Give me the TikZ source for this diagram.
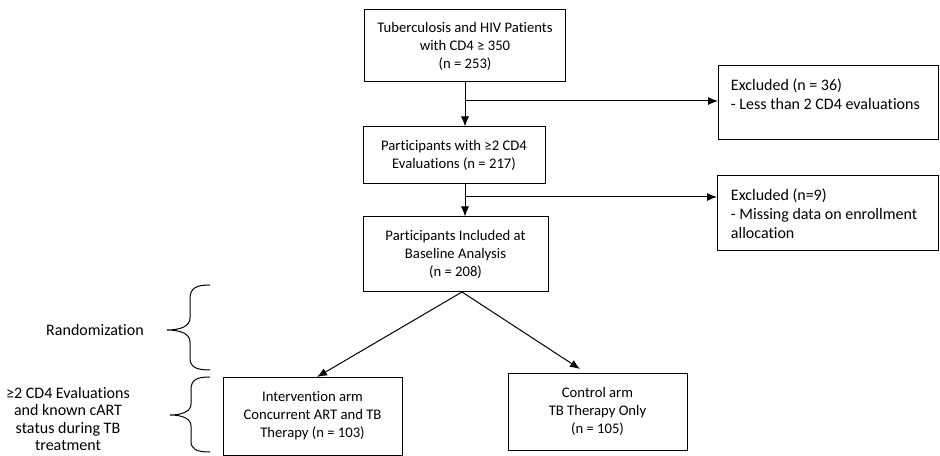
\documentclass[tikz,border=0pt]{standalone}
\usepackage{fontspec}
\setmainfont{Carlito}[Ligatures=NoCommon]
\usetikzlibrary{arrows.meta,shapes}
\tikzstyle{box} = [rectangle, draw=black, text centered, align=center, inner sep=2pt, font=\fontsize{11}{13.5}\selectfont]
\tikzstyle{exbox} = [rectangle, draw=black, anchor=north west, align=left, inner sep=0pt]
\tikzstyle{extext} = [align=left, anchor=north west, font=\fontsize{12}{14.25}\selectfont]
\tikzstyle{plain} = [align=center, font=\fontsize{12}{13}\selectfont]
\tikzstyle{arrow} = [-{Latex[length=7.5pt,width=6pt]}]

\begin{document}
\begin{tikzpicture}[x=0.75pt, y=-0.75pt, line width=0.75pt]
    \useasboundingbox (0,0) rectangle (940,456);
    \node (top) [box, minimum width=150.75pt, minimum height=54pt] at (465,46) {Tuberculosis and HIV Patients\\with CD4 ≥ 350\\(n = 253)};
    \node (two) [box, minimum width=136.5pt, minimum height=42.75pt] at (454,155.5) {Participants with ≥2 CD4\\Evaluations (n = 217)};
    \node (base) [box, minimum width=138.75pt, minimum height=56.25pt] at (455.5,254.5) {Participants Included at\\Baseline Analysis\\(n = 208)};
    \node (ex1) [exbox, minimum width=165pt, minimum height=55.5pt] at (718,65) {};
    \node (ex2) [exbox, minimum width=165.75pt, minimum height=56.25pt] at (717,175) {};
    \node [extext] at (726,74) {Excluded (n = 36)\\- Less than 2 CD4 evaluations};
    \node [extext] at (726,184) {Excluded (n=9)\\- Missing data on enrollment\\allocation};
    \node (int) [box, minimum width=134.25pt, minimum height=58.5pt] at (312.5,416) {Intervention arm\\Concurrent ART and TB\\Therapy (n = 103)};
    \node (ctl) [box, minimum width=134.25pt, minimum height=57.75pt] at (597.5,411.5) {Control arm\\TB Therapy Only\\(n = 105)};
    \coordinate (b1) at (465,101);
    \coordinate (b2) at (465,197);
    \draw (top.south) -- (b1);
    \draw [arrow] (b1) -- (b1 |- two.north);
    \draw [arrow] (b1) -- (b1 -| ex1.west);
    \draw (b1 |- two.south) -- (b2);
    \draw [arrow] (b2) -- (b2 |- base.north);
    \draw [arrow] (b2) -- (b2 -| ex2.west);
    \draw [arrow] (462,292) -- (317,377);
    \draw [arrow] (462,292) -- (580,369);
    % braces
    \draw (210,285) .. controls (196,285) and (190,288) .. (190,299) -- (190,318) .. controls (190,326) and (181,330) .. (167,330) .. controls (181,330) and (190,334) .. (190,342) -- (190,358) .. controls (190,367) and (196,370) .. (210,370);
    \draw (210,377) .. controls (196,377) and (191,380) .. (191,390) -- (191,404) .. controls (191,411) and (183,415) .. (170,415) .. controls (183,415) and (191,419) .. (191,426) -- (191,441) .. controls (191,449) and (196,452) .. (210,452);
    \node (rand) [plain] at (95,330) {Randomization};
    \node (eval) [plain] at (68,419) {≥2 CD4 Evaluations\\and known cART\\status during TB\\treatment};
\end{tikzpicture}
\end{document}
